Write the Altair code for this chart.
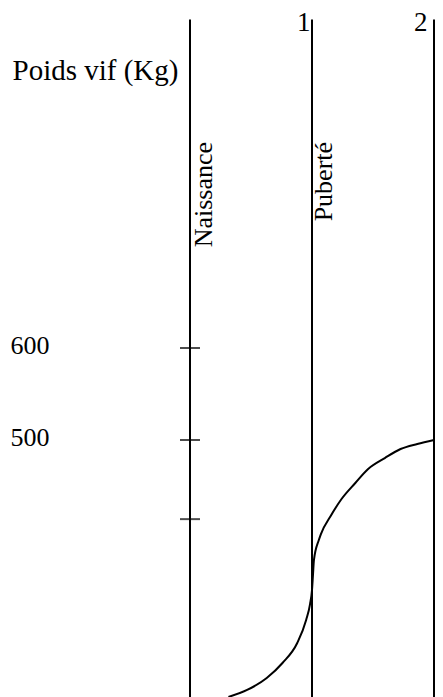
import altair as alt
import pandas as pd

# vertical reference lines (age in years)
line_ages = [0, 1, 2]
line_top = [957, 957, 957]
line_bottom = [220.65, 220.65, 220.65]

# stage labels written along the lines
stage_labels = ["Naissance", "Puberté"]
stage_ages = [0, 1]
stage_label_top = [824, 824]

# weight ticks on the birth line
tick_poids = [600, 500, 414]
tick_age = [0, 0, 0]
axis_label_values = [600, 500]
top_label_values = [1, 2]

# growth curve (age, poids vif)
curve_age = [0.315, 0.468, 0.629, 0.758, 0.879, 0.952, 0.984, 1.0, 1.008, 1.016,
             1.056, 1.073, 1.153, 1.242, 1.355, 1.460, 1.597, 1.726, 1.863, 2.0]
curve_poids = [220.7, 228.3, 241.3, 257.6, 279.3, 304.3, 321.7, 337.0, 353.3, 369.6,
               391.3, 397.8, 417.4, 435.9, 453.3, 468.5, 480.4, 490.2, 495.7, 500.0]

FONT = "Liberation Serif"
FS = 26

x_scale = alt.Scale(domain=[-182 / 122, 245 / 122], nice=False, zero=False)
y_scale = alt.Scale(domain=[220.65, 969.6], nice=False, zero=False)

lines_df = pd.DataFrame({"age": line_ages, "top": line_top, "bottom": line_bottom})
ticks_df = pd.DataFrame({"age": tick_age, "poids": tick_poids})
curve_df = pd.DataFrame({"age": curve_age, "poids": curve_poids, "i": list(range(len(curve_age)))})

x_axis = alt.Axis(orient="top", values=top_label_values, domain=False, ticks=False, grid=False,
                  labelAlign="right", labelBaseline="alphabetic",
                  labelOffset={"condition": {"test": "datum.value == 1", "value": -2}, "value": -7},
                  labelPadding=-22, labelFont=FONT, labelFontSize=27, labelColor="black",
                  labelFlush=False, labelOverlap=False, title=None, format="d")
y_axis = alt.Axis(orient="left", values=axis_label_values, domain=False, ticks=False, grid=False,
                  labelAlign="left", labelBaseline="middle", labelPadding=-2, labelOffset=-3,
                  labelFont=FONT, labelFontSize=FS, labelColor="black", labelFlush=False,
                  labelOverlap=False, title="Poids vif (Kg)", titleAngle=0, titleAlign="left",
                  titleBaseline="alphabetic", titleX=4, titleY=71, titleFont=FONT,
                  titleFontSize=29, titleFontWeight="normal", titleColor="black")

rules = alt.Chart(lines_df).mark_rule(color="black", strokeWidth=2).encode(
    x=alt.X("age:Q", scale=x_scale, axis=x_axis),
    y=alt.Y("top:Q", scale=y_scale, axis=y_axis),
    y2="bottom:Q",
)

ticks = alt.Chart(ticks_df).mark_tick(orient="horizontal", size=20, thickness=2, color="black").encode(
    x=alt.X("age:Q", scale=x_scale),
    y=alt.Y("poids:Q", scale=y_scale),
)

curve = alt.Chart(curve_df).mark_line(color="black", strokeWidth=2, interpolate="monotone", clip=True).encode(
    x=alt.X("age:Q", scale=x_scale),
    y=alt.Y("poids:Q", scale=y_scale),
    order="i:Q",
)

text_layers = []
for lab, age, top, dy in zip(stage_labels, stage_ages, stage_label_top, [22, 19.5]):
    df = pd.DataFrame({"age": [age], "label": [lab], "y": [top]})
    text_layers.append(
        alt.Chart(df).mark_text(angle=270, align="right", baseline="alphabetic", dy=dy,
                                font=FONT, fontSize=FS, color="black").encode(
            x=alt.X("age:Q", scale=x_scale),
            y=alt.Y("y:Q", scale=y_scale),
            text="label:N",
        )
    )

chart = alt.layer(rules, ticks, curve, *text_layers).properties(
    width=427, height=689, padding=0, autosize=alt.AutoSizeParams(type="none")
).configure_view(stroke=None)

chart.save("out.html", embed_options={"renderer": "svg", "actions": False})
